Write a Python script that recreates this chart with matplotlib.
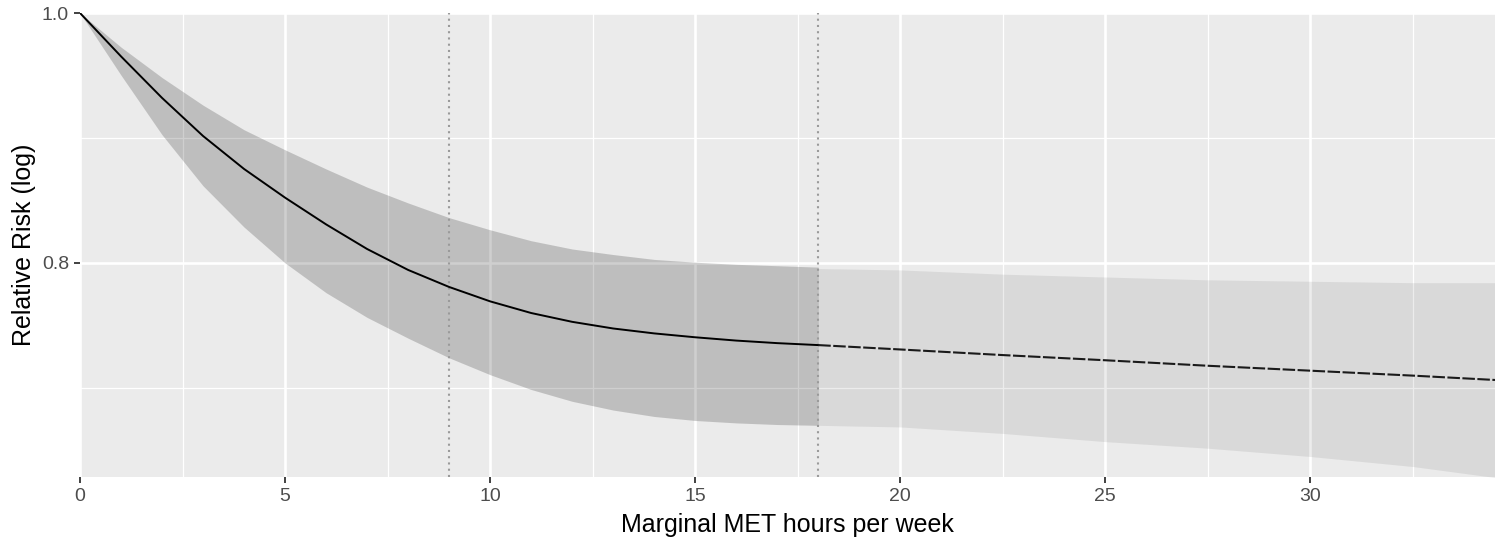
import matplotlib
matplotlib.use("Agg")
import matplotlib.pyplot as plt
from matplotlib.ticker import FixedLocator, NullFormatter, FixedFormatter

plt.rcParams['font.family'] = ['Liberation Sans', 'DejaVu Sans']

# ---- data ----
x_solid = [0, 1, 2, 3, 4, 5, 6, 7, 8, 9, 10, 11, 12, 13, 14, 15, 16, 17, 18]
rr_solid = [1.000, 0.962, 0.927, 0.896, 0.870, 0.848, 0.828, 0.810, 0.795, 0.783,
            0.773, 0.765, 0.759, 0.7545, 0.7512, 0.7486, 0.7464, 0.7447, 0.7434]
upper_solid = [1.000, 0.970, 0.944, 0.921, 0.901, 0.885, 0.870, 0.856, 0.844, 0.833,
               0.824, 0.816, 0.810, 0.806, 0.8025, 0.8005, 0.799, 0.798, 0.797]
lower_solid = [1.000, 0.946, 0.897, 0.857, 0.826, 0.800, 0.779, 0.762, 0.748, 0.735,
               0.724, 0.7145, 0.707, 0.7015, 0.6975, 0.6950, 0.6935, 0.6925, 0.692]

x_dash = [18, 20, 22.5, 25, 27.5, 30, 32.5, 34.5]
rr_dash = [0.7434, 0.7405, 0.7368, 0.7334, 0.7298, 0.7266, 0.7234, 0.7206]
upper_dash = [0.796, 0.795, 0.792, 0.790, 0.788, 0.787, 0.786, 0.786]
lower_dash = [0.692, 0.691, 0.687, 0.682, 0.678, 0.673, 0.667, 0.6605]

ref_lines = [9, 18]
x_ticks = [0, 5, 10, 15, 20, 25, 30]
x_minor = [2.5, 7.5, 12.5, 17.5, 22.5, 27.5, 32.5]
y_ticks = [0.8, 1.0]
y_ticklabels = ["0.8", "1.0"]
y_minor = [0.7155, 0.8944]

# ---- figure ----
W, H = 1495, 541
fig = plt.figure(figsize=(W / 100, H / 100), dpi=100)
ax = fig.add_axes([80 / W, 64 / H, 1415 / W, 464 / H])
ax.set_facecolor('#EBEBEB')
for s in ax.spines.values():
    s.set_visible(False)

ax.set_yscale('log')
ax.set_xlim(0, 34.5)
ax.set_ylim(0.6608, 1.0)

ax.xaxis.set_major_locator(FixedLocator(x_ticks))
ax.xaxis.set_minor_locator(FixedLocator(x_minor))
ax.yaxis.set_major_locator(FixedLocator(y_ticks))
ax.yaxis.set_major_formatter(FixedFormatter(y_ticklabels))
ax.yaxis.set_minor_locator(FixedLocator(y_minor))
ax.yaxis.set_minor_formatter(NullFormatter())
ax.xaxis.set_minor_formatter(NullFormatter())

ax.set_axisbelow(True)
ax.grid(which='major', color='white', linewidth=1.9)
ax.grid(which='minor', color='white', linewidth=0.9)
ax.tick_params(which='major', length=4, width=1.3, color='#333333',
               labelsize=14, labelcolor='#4D4D4D', pad=4)
ax.tick_params(which='minor', length=0)

# ribbons
ax.fill_between(x_solid, lower_solid, upper_solid, color='black', alpha=0.19,
                linewidth=0, zorder=2)
ax.fill_between(x_dash, lower_dash, upper_dash, color='black', alpha=0.075,
                linewidth=0, zorder=2)

# reference lines
for xv in ref_lines:
    ax.axvline(xv, color='#9A9A9A', linestyle=(0, (1, 2)), linewidth=1.5, zorder=3)

# central estimate
ax.plot(x_solid, rr_solid, color='black', linewidth=1.4, zorder=4)
ax.plot(x_dash, rr_dash, color='#1a1a1a', linewidth=1.5, linestyle=(0, (6, 1.2)),
        zorder=4)

ax.set_xlabel('Marginal MET hours per week', fontsize=18, color='black', labelpad=6)
ax.set_ylabel('Relative Risk (log)', fontsize=18, color='black', labelpad=4)

fig.savefig('out.png', dpi=100)
